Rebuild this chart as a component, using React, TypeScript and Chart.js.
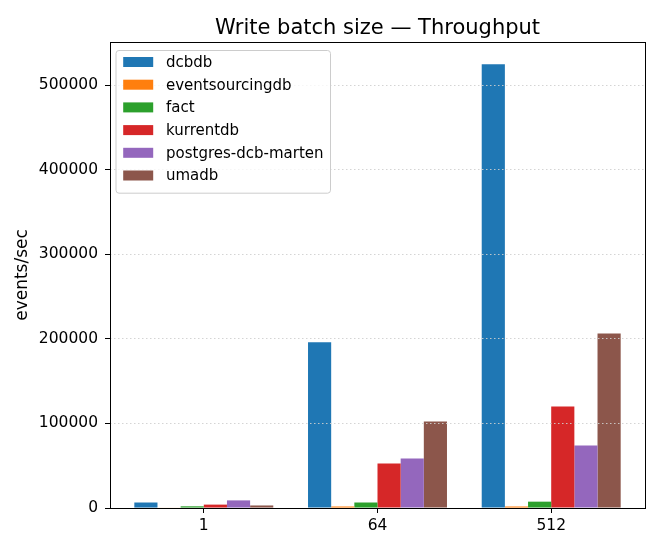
import React, { useEffect, useRef } from "react";
import { Chart, registerables } from "chart.js";

Chart.register(...registerables);

const categories = ["1", "64", "512"];
const seriesNames = [
    "dcbdb",
    "eventsourcingdb",
    "fact",
    "kurrentdb",
    "postgres-dcb-marten",
    "umadb",
];
const dcbdb = [6500, 196000, 525000];
const eventsourcingdb = [600, 1800, 1800];
const fact = [2000, 6500, 7500];
const kurrentdb = [4000, 52700, 120000];
const postgresDcbMarten = [9000, 58600, 74000];
const umadb = [3000, 102400, 206500];
const seriesValues = [dcbdb, eventsourcingdb, fact, kurrentdb, postgresDcbMarten, umadb];
const seriesColors = ["#1f77b4", "#ff7f0e", "#2ca02c", "#d62728", "#9467bd", "#8c564b"];
const yTicks = [0, 100000, 200000, 300000, 400000, 500000];
const yMax = 551250;

const FONT = "'DejaVu Sans', sans-serif";
const TITLE = "Write batch size \u2014 Throughput";

// matplotlib-like spines, title and legend box drawn on top
const decorPlugin = {
    id: "decor",
    afterDraw(chart: any) {
        const { ctx, chartArea: a } = chart;
        ctx.save();

        ctx.strokeStyle = "#000";
        ctx.lineWidth = 1;
        ctx.strokeRect(Math.round(a.left) + 0.5, Math.round(a.top) + 0.5,
            Math.round(a.right - a.left), Math.round(a.bottom - a.top));

        ctx.fillStyle = "#000";
        ctx.font = `21px ${FONT}`;
        ctx.textAlign = "center";
        ctx.textBaseline = "alphabetic";
        ctx.fillText(TITLE, (a.left + a.right) / 2, 26);

        ctx.font = `15px ${FONT}`;
        const boxX = a.left + 5.5;
        const boxY = a.top + 8;
        const rowH = 22.7;
        const textX = boxX + 50.5;
        let maxW = 0;
        seriesNames.forEach((n) => (maxW = Math.max(maxW, ctx.measureText(n).width)));
        const boxW = textX + maxW + 6.5 - boxX;
        const boxH = rowH * seriesNames.length + 6.5;
        ctx.beginPath();
        ctx.roundRect(boxX + 0.5, boxY + 0.5, boxW, boxH, 3);
        ctx.fillStyle = "rgba(255,255,255,0.8)";
        ctx.fill();
        ctx.strokeStyle = "#cccccc";
        ctx.stroke();

        ctx.textAlign = "left";
        ctx.textBaseline = "middle";
        seriesNames.forEach((n, i) => {
            const cy = boxY + 12 + i * rowH;
            ctx.fillStyle = seriesColors[i];
            ctx.fillRect(boxX + 7.7, cy - 5, 30, 10);
            ctx.fillStyle = "#000";
            ctx.fillText(n, textX, cy + 1);
        });
        ctx.restore();
    },
};

export default function App() {
    const ref = useRef<HTMLCanvasElement | null>(null);

    useEffect(() => {
        if (!ref.current) return;

        const chart = new Chart(ref.current, {
            type: "bar",
            data: {
                datasets: seriesNames.map((name, i) => ({
                    label: name,
                    data: seriesValues[i].map((y, x) => ({ x, y })),
                    backgroundColor: seriesColors[i],
                    borderWidth: 0,
                    categoryPercentage: 0.8,
                    barPercentage: 1.0,
                })),
            },
            options: {
                animation: false,
                responsive: true,
                maintainAspectRatio: false,
                layout: { padding: { left: 0, right: 7, top: 34, bottom: 0 } },
                plugins: {
                    legend: { display: false },
                    title: { display: false },
                    tooltip: { enabled: false },
                },
                scales: {
                    x: {
                        type: "linear",
                        min: -0.54,
                        max: 2.54,
                        offset: false,
                        afterBuildTicks: (s: any) => {
                            s.ticks = categories.map((_, i) => ({ value: i }));
                        },
                        afterFit: (s: any) => {
                            s.height = 34;
                        },
                        grid: {
                            offset: false,
                            drawOnChartArea: false,
                            tickLength: 5,
                            tickColor: "#000",
                            tickWidth: 1,
                        },
                        border: { color: "#000", width: 1 },
                        ticks: {
                            color: "#000",
                            font: { family: FONT, size: 15.5 },
                            padding: 4,
                            maxRotation: 0,
                            autoSkip: false,
                            callback: (v: any) => categories[Number(v)] ?? "",
                        },
                    },
                    y: {
                        min: 0,
                        max: yMax,
                        afterBuildTicks: (s: any) => {
                            s.ticks = yTicks.map((v) => ({ value: v }));
                        },
                        afterFit: (s: any) => {
                            s.width = 102;
                        },
                        grid: {
                            z: 1,
                            color: "#cfcfcf",
                            lineWidth: 0.9,
                            tickColor: "#000",
                            tickWidth: 1,
                            tickLength: 5,
                            tickBorderDash: [],
                        },
                        border: { display: false, dash: [1.5, 2.5] },
                        ticks: {
                            color: "#000",
                            font: { family: FONT, size: 15.5 },
                            padding: 7,
                            callback: (v: any) => String(v),
                        },
                        title: {
                            display: true,
                            text: "events/sec",
                            color: "#000",
                            font: { family: FONT, size: 17 },
                            padding: { top: 4, bottom: 0 },
                        },
                    },
                },
            } as any,
            plugins: [decorPlugin],
        });

        return () => chart.destroy();
    }, []);

    return (
        <div style={{ width: 644, height: 534, position: "relative" }}>
            <canvas ref={ref} />
        </div>
    );
}
